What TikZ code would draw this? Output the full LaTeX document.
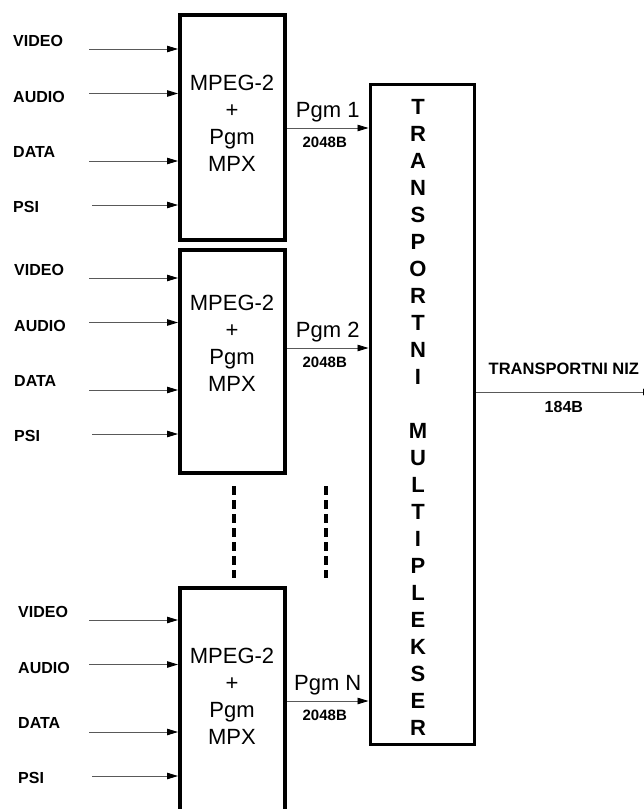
\documentclass[tikz,border=0pt]{standalone}
\usepackage{fontspec}
\setmainfont{Liberation Sans}
\usepackage{tikz}
\usetikzlibrary{arrows.meta}
\definecolor{shaftgray}{gray}{0.35}
\tikzset{
  mpxbox/.style    = {draw,line width=4pt,minimum width=105pt,inner sep=0pt},
  muxbox/.style    = {draw,line width=3pt,minimum width=104pt,minimum height=660pt,inner sep=0pt},
  inarr/.style     = {-{Triangle[length=11pt,width=6.5pt,color=black]},shaftgray,line width=0.9pt},
  inlabel/.style   = {anchor=west,inner sep=0pt,font=\fontsize{16}{18}\selectfont\bfseries},
  blocktext/.style = {align=center,inner sep=0pt,font=\fontsize{22}{27}\selectfont},
  muxtext/.style   = {align=center,inner sep=0pt,font=\fontsize{22}{27}\selectfont\bfseries},
  pgmlabel/.style  = {inner sep=0pt,text=black,font=\fontsize{22}{26}\selectfont},
  ratelabel/.style = {inner sep=0pt,text=black,font=\fontsize{15}{17}\selectfont\bfseries},
  dashline/.style  = {line width=4pt,dash pattern=on 9pt off 5pt}
}
% #1 name, #2 top, #3 bottom, #4 video y, #5 output y, #6 label x, #7 program
\newcommand{\mpxblock}[7]{%
  \node[mpxbox,minimum height={#3-#2}] (#1) at (232.5,{(#2+#3)/2}) {};
  \node[blocktext] (#1txt) at (232,#5-5) {MPEG-2\\+\\Pgm\\MPX};
  \coordinate (#1v) at (89,#4);
  \coordinate (#1a) at (89,#4+44.5);
  \coordinate (#1d) at (89,#4+112);
  \coordinate (#1p) at (92,#4+156);
  \node[inlabel] (#1lv) at (#6,#4-8)   {VIDEO};
  \node[inlabel] (#1la) at (#6,#4+48)  {AUDIO};
  \node[inlabel] (#1ld) at (#6,#4+103) {DATA};
  \node[inlabel] (#1lp) at (#6,#4+158) {PSI};
  \draw[inarr] (#1v) -- (#1v -| #1.west);
  \draw[inarr] (#1a) -- (#1a -| #1.west);
  \draw[inarr] (#1d) -- (#1d -| #1.west);
  \draw[inarr] (#1p) -- (#1p -| #1.west);
  \coordinate (#1o) at (300,#5);
  \draw[inarr] (#1o -| #1.east) -- (#1o -| mux.west)
    node[pgmlabel,midway,above=5.5pt] (#1pgm) {#7}
    node[ratelabel,midway,below=9pt,xshift=-3pt] (#1rate) {2048B};
}

\begin{document}
\begin{tikzpicture}[x=1pt,y=-1pt]
  \useasboundingbox (0,0) rectangle (644,809);
  \node[muxbox] (mux) at (422,414) {};
  \node[muxtext] (muxtxt) at (418,417)
    {T\\R\\A\\N\\S\\P\\O\\R\\T\\N\\I\\\mbox{}\\M\\U\\L\\T\\I\\P\\L\\E\\K\\S\\E\\R};
  \mpxblock{pa}{15}{240}{49}{128}{13}{Pgm 1}
  \mpxblock{pb}{250}{473}{278}{348}{14}{Pgm 2}
  \mpxblock{pn}{588}{830}{620}{701}{18}{Pgm N}
  \draw[dashline] (234,486) -- (234,578);
  \draw[dashline] (326,486) -- (326,578);
  \coordinate (tsout) at (654,392);
  \draw[inarr] (tsout -| mux.east) -- (tsout)
    node[ratelabel,font=\fontsize{16.5}{18}\selectfont\bfseries,pos=0.495,above=17pt] (tslabel) {TRANSPORTNI NIZ}
    node[ratelabel,font=\fontsize{16}{18}\selectfont\bfseries,pos=0.495,below=9pt] (tsrate) {184B};
\end{tikzpicture}
\end{document}
